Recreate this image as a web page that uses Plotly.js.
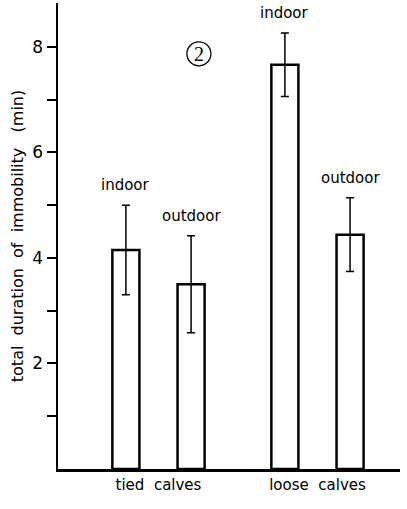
<!DOCTYPE html>
<html>
<head>
<meta charset="utf-8">
<script src="https://cdn.plot.ly/plotly-3.0.1.min.js"></script>
<style>html,body{margin:0;padding:0;background:#fff;} #chart{width:407px;height:509px;}</style>
</head>
<body>
<div id="chart"></div>
<script>
// Data
const groups = ["tied  calves", "loose  calves"];
const seriesNames = ["indoor", "outdoor"];
const indoorMeans = [4.15, 7.66];
const indoorErr = [0.85, 0.60];
const outdoorMeans = [3.50, 4.44];
const outdoorErr = [0.92, 0.70];
const yTickVals = [1, 2, 3, 4, 5, 6, 7, 8];
const yTickText = ["", "2", "", "4", "", "6", "", "8"];

const FONT = "DejaVu Sans, Verdana, sans-serif";
const BARGAP = 0.18;
const GROUPGAP = 0.585;
const slotOffset = (1 - BARGAP) / 4;

function barTrace(name, y, err) {
  return {
    type: "bar", name: name, x: groups, y: y,
    marker: {color: "#fff", line: {color: "#000", width: 2.5}},
    error_y: {type: "data", array: err, visible: true, color: "#000", thickness: 1.5, width: 4},
    hoverinfo: "skip"
  };
}

const data = [
  barTrace(seriesNames[0], indoorMeans, indoorErr),
  barTrace(seriesNames[1], outdoorMeans, outdoorErr)
];

const annotations = [];
const sets = [[indoorMeans, indoorErr, -1], [outdoorMeans, outdoorErr, 1]];
sets.forEach(function (s, si) {
  s[0].forEach(function (v, i) {
    annotations.push({
      x: i + s[2] * slotOffset, y: v + s[1][i], xref: "x", yref: "y",
      text: seriesNames[si], showarrow: false, yanchor: "bottom", yshift: 9,
      font: {family: FONT, size: 15, color: "#000"}
    });
  });
});
annotations.push({
  xref: "paper", yref: "paper", x: 0.412, y: 0.891, text: "2", showarrow: false,
  xanchor: "center", yanchor: "middle",
  font: {family: "Liberation Serif, serif", size: 20, color: "#000"}
});

const layout = {
  width: 407, height: 509,
  margin: {l: 58, r: 7, t: 3, b: 40},
  paper_bgcolor: "#fff", plot_bgcolor: "#fff",
  showlegend: false,
  barmode: "group", bargap: BARGAP, bargroupgap: GROUPGAP,
  xaxis: {
    type: "category", range: [-0.632, 1.519],
    showline: true, linecolor: "#000", linewidth: 2.5,
    ticks: "", showgrid: false, zeroline: false,
    tickfont: {family: FONT, size: 15, color: "#000"}
  },
  yaxis: {
    range: [0, 8.83], showline: true, linecolor: "#000", linewidth: 2.5,
    tickmode: "array", tickvals: yTickVals, ticktext: yTickText,
    ticks: "outside", ticklen: 9, tickwidth: 2, tickcolor: "#000",
    showgrid: false, zeroline: false,
    tickfont: {family: FONT, size: 17, color: "#000"},
    title: {text: "total  duration  of  immobility   (min)", standoff: 5,
            font: {family: FONT, size: 16, color: "#000"}}
  },
  annotations: annotations,
  shapes: [{
    type: "circle", xref: "paper", yref: "paper", xsizemode: "pixel", ysizemode: "pixel",
    xanchor: 0.412, yanchor: 0.891, x0: -12, x1: 12, y0: -12, y1: 12,
    line: {color: "#000", width: 1.3}
  }]
};

Plotly.newPlot("chart", data, layout, {displayModeBar: false, staticPlot: true});
</script>
</body>
</html>
